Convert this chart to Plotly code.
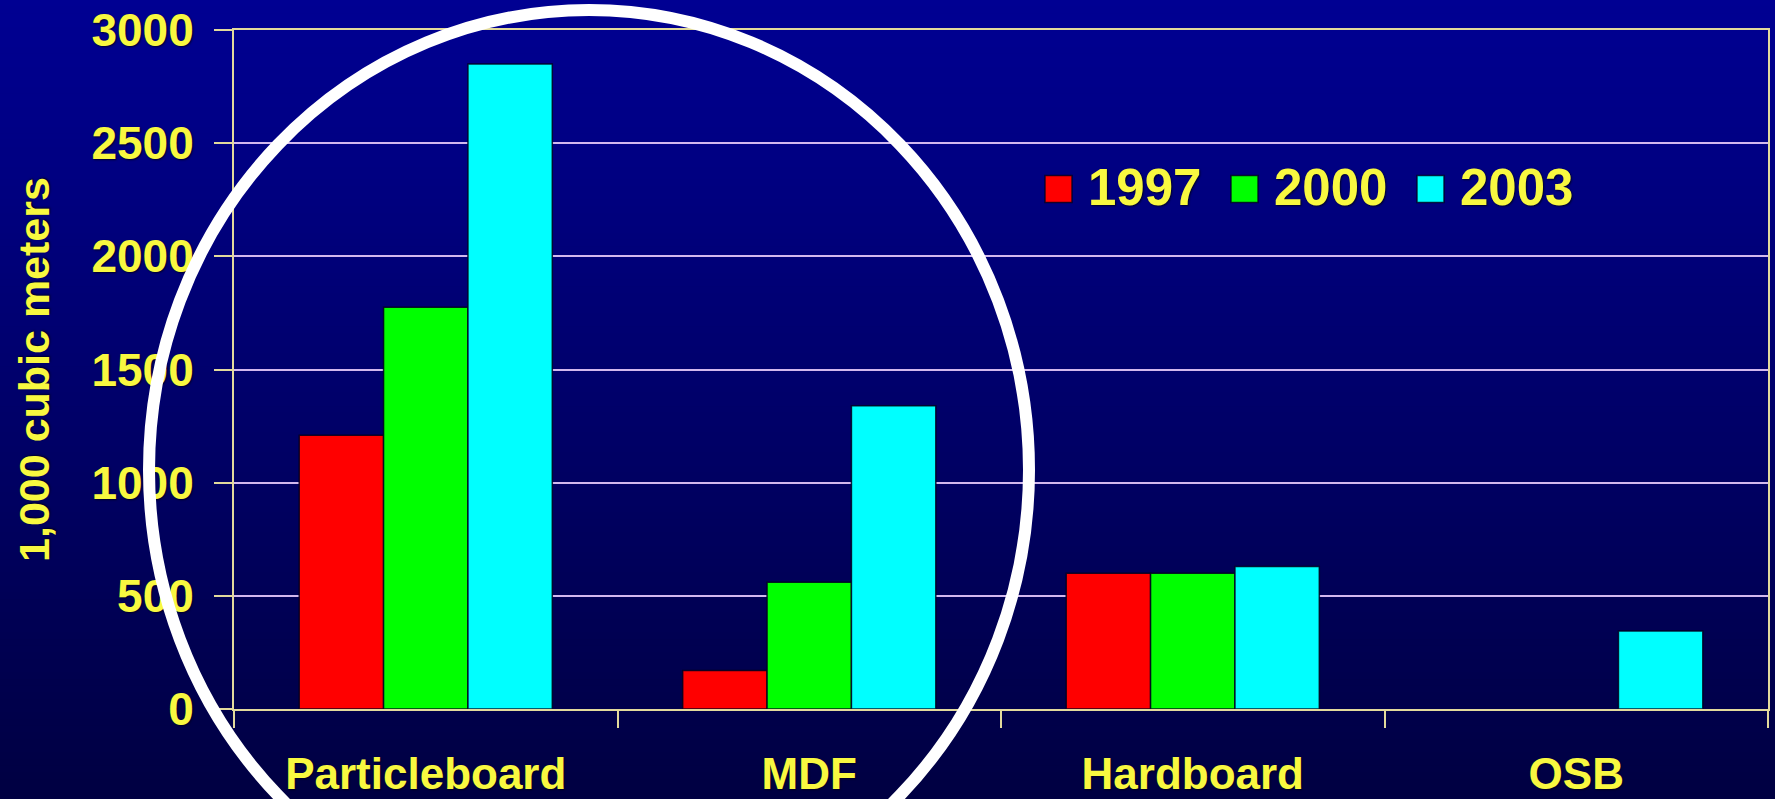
import plotly.graph_objects as go

# Panel production by product type (1,000 cubic meters)
categories = ["Particleboard", "MDF", "Hardboard", "OSB"]
years = ["1997", "2000", "2003"]
vol_1997 = [1210, 170, 600, None]
vol_2000 = [1775, 560, 600, None]
vol_2003 = [2850, 1340, 630, 345]
y_tick_vals = [0, 500, 1000, 1500, 2000, 2500, 3000]
y_tick_text = ["0", "500", "1000", "1500", "2000", "2500", "3000"]

series = [vol_1997, vol_2000, vol_2003]
colors = ["#FF0000", "#00FF00", "#00FFFF"]

# Page geometry (pixels)
W, H = 1775, 799
L, R, T, B = 234, 7, 30, 90
PW = W - L - R
PH = H - T - B


def px(x):
    return (x - L) / PW


def py(y):
    return (H - B - y) / PH


YELLOW = "#F8F840"
AXIS = "#E2DA9C"
GRID = "#D2B8EE"
FONT = "Liberation Sans, Arial, sans-serif"
SHADOW = "1px 1px 2px rgba(0,0,30,0.9)"

fig = go.Figure()
for name, vals, col in zip(years, series, colors):
    fig.add_trace(go.Bar(
        x=categories, y=vals, name=name,
        marker=dict(color=col, line=dict(color="rgba(0,0,30,0.85)", width=1.5)),
        showlegend=False,
    ))

shapes = []

# vertical blue gradient behind the whole page
n_bands = 120
top_rgb = (0, 0, 146)
bot_rgb = (0, 0, 66)
for i in range(n_bands):
    t = i / (n_bands - 1)
    c = tuple(round(a + (b - a) * t) for a, b in zip(top_rgb, bot_rgb))
    y0 = i * H / n_bands
    y1 = (i + 1) * H / n_bands + 1
    shapes.append(dict(
        type="rect", xref="paper", yref="paper", layer="below",
        x0=px(0), x1=px(W), y0=py(y1), y1=py(y0),
        fillcolor=f"rgb{c}", line=dict(width=0),
    ))

# hand-placed legend swatches and labels
annotations = []
leg_x = 1045
leg_y = 189
sw = 27
for name, col in zip(years, colors):
    shapes.append(dict(
        type="rect", xref="paper", yref="paper", layer="above",
        x0=px(leg_x), x1=px(leg_x + sw), y0=py(leg_y + sw / 2), y1=py(leg_y - sw / 2),
        fillcolor=col, line=dict(color="rgba(0,0,30,0.8)", width=1.5),
    ))
    annotations.append(dict(
        xref="paper", yref="paper", x=px(leg_x + sw + 14), y=py(leg_y - 1),
        xanchor="left", yanchor="middle", showarrow=False, text=name,
        font=dict(family=FONT, size=51, color=YELLOW, weight="bold", shadow=SHADOW),
    ))
    leg_x += 186

# white highlight ring around the first two groups
cx, cy, rx, ry = 589, 470, 440, 460
shapes.append(dict(
    type="circle", xref="paper", yref="paper", layer="above",
    x0=px(cx - rx), x1=px(cx + rx), y0=py(cy + ry), y1=py(cy - ry),
    line=dict(color="white", width=12), fillcolor="rgba(0,0,0,0)",
))

fig.update_layout(
    width=W, height=H,
    margin=dict(l=L, r=R, t=T, b=B, pad=0, autoexpand=False),
    paper_bgcolor="rgb(0,0,105)",
    plot_bgcolor="rgba(0,0,0,0)",
    barmode="group", bargap=0.34, bargroupgap=0.0,
    shapes=shapes, annotations=annotations,
    showlegend=False,
    font=dict(family=FONT, color=YELLOW),
)

fig.update_xaxes(
    type="category", automargin=False,
    tickson="boundaries", ticks="outside", ticklen=17, tickwidth=2, tickcolor=AXIS,
    showline=True, linecolor=AXIS, linewidth=2, mirror=True,
    showgrid=False,
    tickfont=dict(family=FONT, size=44, color=YELLOW, weight="bold", shadow=SHADOW),
    ticklabelstandoff=25,
)

fig.update_yaxes(
    range=[0, 3000], tickvals=y_tick_vals, ticktext=y_tick_text, automargin=False,
    ticks="outside", ticklen=18, tickwidth=2, tickcolor=AXIS,
    showline=True, linecolor=AXIS, linewidth=2, mirror=True,
    showgrid=True, gridcolor=GRID, gridwidth=2, zeroline=False,
    tickfont=dict(family=FONT, size=46, color=YELLOW, weight="bold", shadow=SHADOW),
    ticklabelstandoff=11,
    title=dict(text="1,000 cubic meters", standoff=28,
               font=dict(family=FONT, size=43, color=YELLOW, weight="bold", shadow=SHADOW)),
)

fig.write_html("out.html")
